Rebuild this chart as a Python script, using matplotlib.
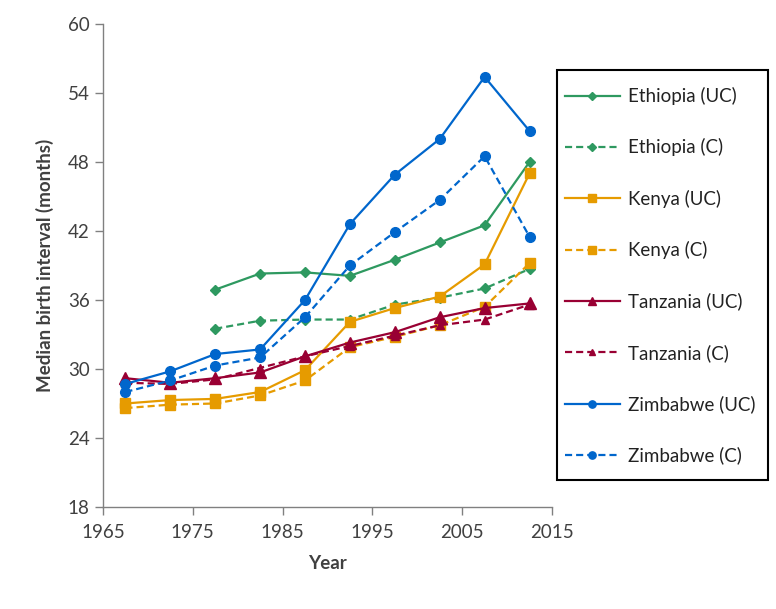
import numpy as np
import matplotlib.pyplot as plt
from matplotlib.patches import Rectangle

plt.rcParams['font.family'] = ['Lato', 'DejaVu Sans']

# survey mid-points (5-year periods)
years = [1967.5, 1972.5, 1977.5, 1982.5, 1987.5, 1992.5, 1997.5, 2002.5, 2007.5, 2012.5]

# median birth interval (months)
eth_uc = [np.nan, np.nan, 36.9, 38.3, 38.4, 38.1, 39.5, 41.0, 42.5, 48.0]
eth_c = [np.nan, np.nan, 33.5, 34.2, 34.3, 34.3, 35.6, 36.2, 37.0, 38.7]
ken_uc = [27.0, 27.3, 27.4, 28.0, 29.9, 34.1, 35.3, 36.3, 39.1, 47.0]
ken_c = [26.6, 26.9, 27.0, 27.7, 29.0, 31.9, 32.8, 33.8, 35.4, 39.2]
tan_uc = [29.2, 28.8, 29.2, 29.7, 31.1, 32.3, 33.2, 34.5, 35.3, 35.7]
tan_c = [28.8, 28.7, 29.1, 30.1, 31.1, 32.0, 32.9, 33.8, 34.3, 35.6]
zim_uc = [28.7, 29.8, 31.3, 31.7, 36.0, 42.6, 46.9, 50.0, 55.4, 50.7]
zim_c = [28.0, 29.0, 30.3, 31.0, 34.5, 39.0, 41.9, 44.7, 48.5, 41.5]

green = '#2E9960'
orange = '#E69B00'
red = '#990033'
blue = '#0066CC'

fig = plt.figure(figsize=(7.76, 6.09), dpi=100)
ax = fig.add_axes([0.1327, 0.1675, 0.5786, 0.7931])

lw = 1.6
dash = (0, (3.2, 1.8))
ax.plot(years, eth_uc, color=green, lw=lw, marker='D', ms=5, label='Ethiopia (UC)')
ax.plot(years, eth_c, color=green, lw=lw, ls=dash, marker='D', ms=5, label='Ethiopia (C)')
ax.plot(years, ken_uc, color=orange, lw=lw, marker='s', ms=7.5, label='Kenya (UC)')
ax.plot(years, ken_c, color=orange, lw=lw, ls=dash, marker='s', ms=7.5, label='Kenya (C)')
ax.plot(years, tan_uc, color=red, lw=lw, marker='^', ms=8, label='Tanzania (UC)')
ax.plot(years, tan_c, color=red, lw=lw, ls=dash, marker='^', ms=6, label='Tanzania (C)')
ax.plot(years, zim_uc, color=blue, lw=lw, marker='o', ms=7, label='Zimbabwe (UC)')
ax.plot(years, zim_c, color=blue, lw=lw, ls=dash, marker='o', ms=7, label='Zimbabwe (C)')

ax.set_xlim(1965, 2015)
ax.set_ylim(18, 60)
ax.set_xticks(np.arange(1965, 2016, 10))
ax.set_yticks(np.arange(18, 61, 6))
for s in ['top', 'right']:
    ax.spines[s].set_visible(False)
for s in ['left', 'bottom']:
    ax.spines[s].set_color('#808080')
    ax.spines[s].set_linewidth(1.0)
ax.tick_params(axis='both', colors='#808080', labelcolor='#404040', labelsize=13.5,
               length=6, width=1.0, direction='out')
ax.tick_params(axis='x', pad=6)
ax.set_xlabel('Year', fontsize=13.5, fontweight='bold', color='#404040', labelpad=10)
ax.set_ylabel('Median birth interval (months)', fontsize=13.5, fontweight='bold',
              color='#404040', labelpad=10)

# legend box drawn separately so the padding matches
W, H = 776, 609
fig.patches.append(Rectangle((557 / W, 1 - 480 / H), (768 - 557) / W, (480 - 70) / H,
                             transform=fig.transFigure, fill=False,
                             edgecolor='black', linewidth=1.5))
leg = fig.legend(loc='upper left', bbox_to_anchor=(565 / W, 1 - 87 / H),
                 fontsize=13.5, frameon=False, markerscale=0.75,
                 labelspacing=1.78, handlelength=2.93, handletextpad=0.43,
                 borderpad=0, borderaxespad=0)
for t in leg.get_texts():
    t.set_color('#222222')

fig.savefig('out.png', dpi=100)
